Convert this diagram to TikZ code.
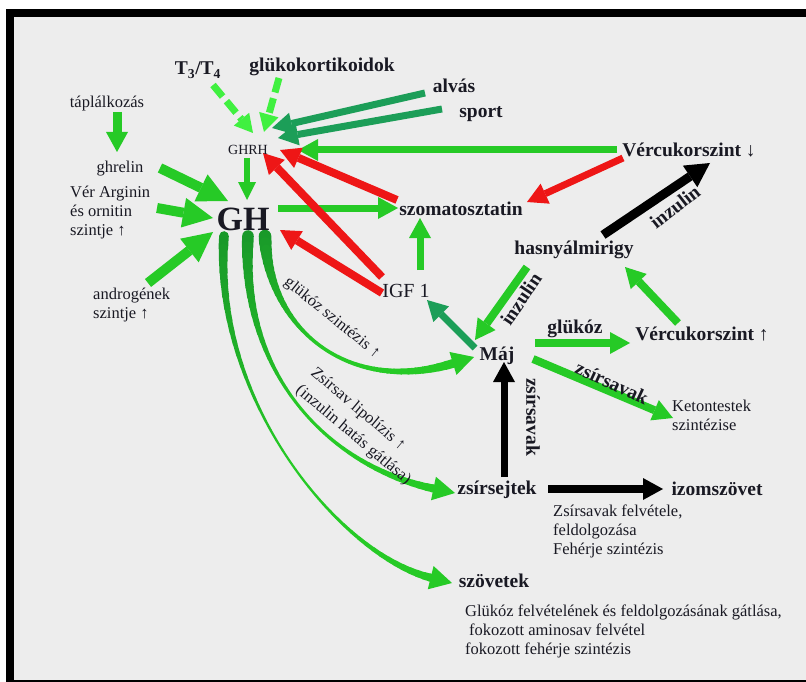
\documentclass[tikz,border=0pt]{standalone}
\usepackage{fontspec}
\setmainfont{Liberation Serif}
\usetikzlibrary{arrows.meta,calc}

\definecolor{bg}{RGB}{237,237,237}
\definecolor{gr}{RGB}{38,202,38}
\definecolor{grdark}{RGB}{22,140,42}
\definecolor{tg}{RGB}{28,158,88}
\definecolor{lg}{RGB}{64,240,64}
\definecolor{rd}{RGB}{238,22,22}
\definecolor{txt}{RGB}{25,25,35}

\pgfdeclarelayer{back}
\pgfsetlayers{back,main}

% Brush-like cubic curve: thick at the start, thin in the middle, thicker at the end.
% #1..#4: start, control 1, control 2, end; #5 start width, #6 middle width, #7 end width
\newcommand\brushcurve[7]{%
  \foreach \ii in {0,...,39}{%
    \pgfmathsetmacro\tA{\ii/40}%
    \pgfmathsetmacro\tB{(\ii+1)/40}%
    \pgfmathsetmacro\tM{(\ii+0.5)/40}%
    \pgfmathsetmacro\bw{\tM<0.5 ? #6+(#5-#6)*(1-2*\tM)*(1-2*\tM) : #6+(#7-#6)*(2*\tM-1)*(2*\tM-1)}%
    \pgfmathtruncatemacro\mx{min(100,20+160*\tM)}%
    \begin{pgfscope}%
      \pgfsetlinewidth{\bw pt}%
      \pgfsetroundcap
      \pgfsetcolor{gr!\mx!grdark}%
      \pgfpathcurvebetweentime{\tA}{\tB}{\pgfpointanchor{#1}{center}}{\pgfpointanchor{#2}{center}}{\pgfpointanchor{#3}{center}}{\pgfpointanchor{#4}{center}}%
      \pgfusepath{stroke}%
    \end{pgfscope}%
  }%
}

\tikzset{
  lbl/.style={font=\fontsize{16.5}{19}\selectfont, text=txt, inner sep=0pt},
  blbl/.style={font=\fontsize{19.5}{22}\selectfont\bfseries, text=txt, inner sep=0pt},
  a/.style={line width=7.5pt, -{Triangle[length=20pt,width=22pt,line width=0pt]}},
  abig/.style={line width=10pt, -{Triangle[length=30pt,width=30pt,line width=0pt]}},
  adash/.style={line width=7pt, dash pattern=on 15pt off 6pt, -{Triangle[length=18pt,width=20pt,line width=0pt]}},
  chead/.style={gr, line width=8pt, -{Triangle[length=22pt,width=24pt,line width=0pt]}},
}

\begin{document}
\begin{tikzpicture}[x=1pt,y=-1pt]
\useasboundingbox (0,0) rectangle (806,682);

% frame
\begin{pgfonlayer}{back}
  \fill[white] (0,0) rectangle (806,682);
  \fill[black] (6,9) rectangle (806,682);
  \fill[bg] (14,17) rectangle (806,680);
\end{pgfonlayer}

% labels
\node[blbl, anchor=base] (t34) at (198,75) {T\textsubscript{3}/T\textsubscript{4}};
\node[blbl, anchor=base] (gluko) at (322,72) {glükokortikoidok};
\node[lbl, anchor=base] (tapl) at (107,108) {táplálkozás};
\node[blbl, anchor=base] (alvas) at (454,93) {alvás};
\node[blbl, anchor=base] (sport) at (481,118) {sport};
\node[lbl, font=\fontsize{14}{16}\selectfont, anchor=base] (ghrh) at (248,154) {GHRH};
\node[blbl, anchor=base] (vcd) at (689,157) {Vércukorszint ↓};
\node[lbl, anchor=base] (ghrelin) at (120,172) {ghrelin};
\node[lbl, anchor=north west, align=left] (arg) at (70,186) {Vér Arginin\\és ornitin\\szintje ↑};
\node[blbl, font=\fontsize{34}{36}\selectfont\bfseries, anchor=base] (gh) at (243,230) {GH};
\node[blbl, anchor=base] (szom) at (461,215) {szomatosztatin};
\node[blbl, anchor=base] (hasny) at (574,254) {hasnyálmirigy};
\node[lbl, anchor=north west, align=left] (andr) at (93,288) {androgének\\szintje ↑};
\node[lbl, font=\fontsize{20}{22}\selectfont, anchor=base] (igf) at (406,297) {IGF 1};
\node[blbl, anchor=base] (vcu) at (702,340) {Vércukorszint ↑};
\node[blbl, anchor=base] (glukoz) at (575,333) {glükóz};
\node[blbl, anchor=base] (maj) at (497,360) {Máj};
\node[lbl, anchor=north west, align=left] (keton) at (672,400) {Ketontestek\\szintézise};
\node[blbl, anchor=base] (zsirs) at (497,494) {zsírsejtek};
\node[blbl, anchor=base] (izom) at (717,495) {izomszövet};
\node[lbl, anchor=north west, align=left] (zsfel) at (553,505) {Zsírsavak felvétele,\\feldolgozása\\Fehérje szintézis};
\node[blbl, anchor=base] (szov) at (494,587) {szövetek};
\node[lbl, anchor=north west, align=left] (gluk) at (465,605) {Glükóz felvételének és feldolgozásának gátlása,\\\hspace{4pt}fokozott aminosav felvétel\\fokozott fehérje szintézis};

% labels along connectors
\node[blbl, rotate=38] (inz1) at (675,207) {inzulin};
\node[blbl, rotate=56] (inz2) at (521,299) {inzulin};
\node[blbl, rotate=-25] (zsav1) at (612,383) {zsírsavak};
\node[blbl, rotate=-90] (zsav2) at (533,417) {zsírsavak};
\node[lbl, rotate=-39] (glsz) at (332,318) {glükóz szintézis ↑};
\node[lbl, rotate=-40, anchor=west, align=left] (lipol) at (305,380) {Zsírsav lipolízis ↑\\[4pt](inzulin hatás gátlása)};

% connectors
\begin{pgfonlayer}{back}
  % GH effects on the periphery
  \coordinate (k1a) at ([shift={(22,6)}]gh.base);
  \coordinate (k1b) at (268,330);
  \coordinate (k1c) at (350,395);
  \coordinate (k1t) at ([shift={(-23,-3)}]maj.base);
  \coordinate (k1d) at ($(k1t)!22pt!(k1c)$);
  \brushcurve{k1a}{k1b}{k1c}{k1d}{13}{3.5}{9}
  \draw[chead] ($(k1d)!2pt!(k1c)$) -- (k1t);

  \coordinate (k2a) at ([shift={(5,6)}]gh.base);
  \coordinate (k2b) at (240,380);
  \coordinate (k2c) at (335,468);
  \coordinate (k2t) at ([shift={(-42,-1)}]zsirs.base);
  \coordinate (k2d) at ($(k2t)!22pt!(k2c)$);
  \brushcurve{k2a}{k2b}{k2c}{k2d}{12}{3}{8}
  \draw[chead] ($(k2d)!2pt!(k2c)$) -- (k2t);

  \coordinate (k3a) at ([shift={(-19,6)}]gh.base);
  \coordinate (k3b) at (212,400);
  \coordinate (k3c) at (340,555);
  \coordinate (k3t) at ([shift={(-42,-4)}]szov.base);
  \coordinate (k3d) at ($(k3t)!22pt!(k3c)$);
  \brushcurve{k3a}{k3b}{k3c}{k3d}{10}{2.2}{8}
  \draw[chead] ($(k3d)!2pt!(k3c)$) -- (k3t);

  % inputs of GHRH
  \draw[a, gr, line width=9pt] ([shift={(10,4)}]tapl.base) -- ([shift={(-3,-20)}]ghrelin.base);
  \draw[adash, lg] ([shift={(15,10)}]t34.base) -- ([shift={(5,-21)}]ghrh.base);
  \draw[adash, lg] ([shift={(-43,6)}]gluko.base) -- ([shift={(16,-22)}]ghrh.base);
  \draw[a, tg, line width=7pt] ([shift={(-29,0)}]alvas.base) -- ([shift={(24,-26)}]ghrh.base);
  \draw[a, tg, line width=7pt] ([shift={(-39,-9)}]sport.base) -- ([shift={(30,-16)}]ghrh.base);
  \draw[a, gr, line width=7pt] ([shift={(-72,-7)}]vcd.base) -- ([shift={(50,-4)}]ghrh.base);

  % inputs of GH
  \draw[a, gr, line width=6pt, -{Triangle[length=18pt,width=18pt,line width=0pt]}] ([shift={(-1,4)}]ghrh.base) -- ([shift={(4,-30)}]gh.base);
  \draw[abig, gr] ([shift={(40,-4)}]ghrelin.base) -- ([shift={(-15,-29)}]gh.base);
  \draw[abig, gr] ([shift={(87,22)}]arg.north west) -- ([shift={(-30,-12)}]gh.base);
  \draw[abig, gr] ([shift={(55,-5)}]andr.north west) -- ([shift={(-30,2)}]gh.base);

  % feedback
  \draw[a, gr, line width=7pt] ([shift={(35,-22)}]gh.base) -- ([shift={(-63,-7)}]szom.base);
  \draw[a, rd, line width=8pt] ([shift={(-64,-15)}]szom.base) -- ([shift={(32,-4)}]ghrh.base);
  \draw[a, rd, line width=8pt] ([shift={(-24,-20)}]igf.base) -- ([shift={(15,-1)}]ghrh.base);
  \draw[a, rd, line width=8pt] ([shift={(-24,-4)}]igf.base) -- ([shift={(37,0)}]gh.base);
  \draw[a, rd, line width=7pt] ([shift={(-66,1)}]vcd.base) -- ([shift={(66,-13)}]szom.base);
  \draw[a, gr, line width=7pt] ([shift={(14,-27)}]igf.base) -- ([shift={(-41,3)}]szom.base);

  % pancreas and liver
  \draw[a, black, line width=9pt, -{Triangle[length=24pt,width=26pt,line width=0pt]}] ([shift={(29,-19)}]hasny.base) -- ([shift={(21,6)}]vcd.base);
  \draw[a, gr, line width=8pt] ([shift={(-47,13)}]hasny.base) -- ([shift={(-22,-20)}]maj.base);
  \draw[a, tg, line width=7pt] ([shift={(-22,-12)}]maj.base) -- ([shift={(21,3)}]igf.base);
  \draw[a, gr, line width=8pt] ([shift={(38,-17)}]maj.base) -- ([shift={(-72,3)}]vcu.base);
  \draw[a, gr, line width=8pt] ([shift={(-24,-17)}]vcu.base) -- ([shift={(51,13)}]hasny.base);
  \draw[a, gr, line width=8pt] ([shift={(36,-1)}]maj.base) -- ([shift={(1,18)}]keton.north west);

  % fat cells
  \draw[a, black, line width=7pt] ([shift={(7,-17)}]zsirs.base) -- ([shift={(7,2)}]maj.base);
  \draw[a, black, line width=8pt] ([shift={(51,-5)}]zsirs.base) -- ([shift={(-54,-6)}]izom.base);
\end{pgfonlayer}
\end{tikzpicture}
\end{document}
